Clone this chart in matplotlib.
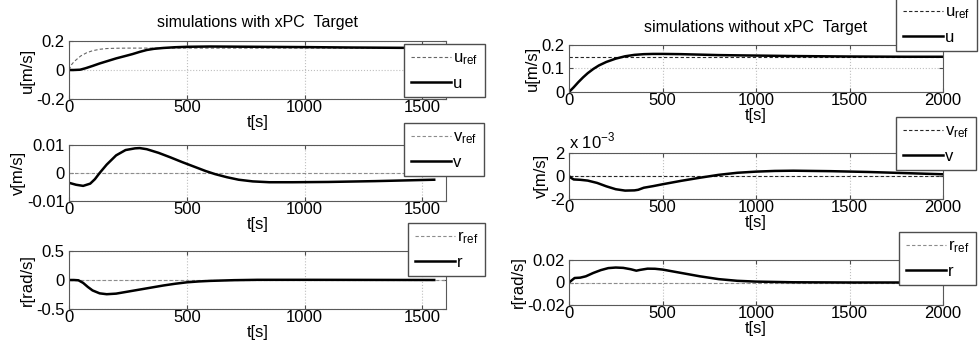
import matplotlib.pyplot as plt
import numpy as np
from matplotlib.ticker import FuncFormatter

plt.rcParams['font.family'] = ['Liberation Sans', 'DejaVu Sans']
plt.rcParams['mathtext.fontset'] = 'custom'
plt.rcParams['mathtext.rm'] = 'Liberation Sans'
plt.rcParams['font.size'] = 12

# ---- with xPC Target (left column)
t_uref_l = [0, 10, 20, 33, 50, 75, 100, 131, 160, 200, 250, 300, 1600]
uref_l = [0, 0.035, 0.055, 0.074, 0.097, 0.119, 0.133, 0.143, 0.148, 0.15, 0.151, 0.151, 0.151]
t_u_l = [0, 20, 47, 70, 100, 130, 160, 200, 240, 270, 300, 330, 360, 400, 450, 500, 600,
         700, 800, 1000, 1200, 1400, 1550]
u_l = [0, 0.0, 0.002, 0.012, 0.028, 0.045, 0.06, 0.08, 0.097, 0.11, 0.125, 0.138, 0.146,
       0.152, 0.157, 0.16, 0.162, 0.161, 0.16, 0.158, 0.155, 0.153, 0.152]

t_v_l = [0, 30, 60, 90, 110, 130, 160, 200, 240, 280, 300, 330, 380, 430, 480, 530, 580,
         620, 670, 720, 780, 850, 950, 1100, 1300, 1450, 1550]
v_l = [-0.0035, -0.0042, -0.0046, -0.0038, -0.0022, 0.0, 0.003, 0.0063, 0.0082, 0.0088,
       0.0089, 0.0085, 0.0072, 0.0056, 0.0039, 0.0023, 0.0007, -0.0004, -0.0015, -0.0024,
       -0.003, -0.0033, -0.0033, -0.0032, -0.0029, -0.0026, -0.0024]
t_vref_l = [0, 1600]
vref_l = [0, 0]

t_r_l = [0, 20, 40, 60, 80, 100, 130, 160, 200, 250, 300, 350, 400, 450, 500, 550, 600,
         700, 800, 1000, 1200, 1550]
r_l = [0, 0, -0.005, -0.05, -0.12, -0.18, -0.23, -0.245, -0.235, -0.2, -0.165, -0.13,
       -0.095, -0.065, -0.04, -0.025, -0.015, -0.003, 0.003, 0.003, 0.002, 0.0]
t_rref_l = [0, 1600]
rref_l = [0, 0]

# ---- without xPC Target (right column)
t_u_r = [0, 25, 50, 75, 100, 130, 160, 200, 250, 300, 350, 400, 450, 500, 600, 700, 800,
         1000, 1200, 1500, 1800, 2000]
u_r = [0, 0.02, 0.042, 0.062, 0.08, 0.098, 0.113, 0.128, 0.142, 0.152, 0.158, 0.161,
       0.162, 0.162, 0.161, 0.159, 0.157, 0.155, 0.153, 0.151, 0.15, 0.15]
t_uref_r = [0, 2000]
uref_r = [0.15, 0.15]

t_v_r = [0, 10, 25, 60, 100, 150, 200, 250, 300, 350, 370, 400, 450, 500, 600, 700, 800,
         900, 1000, 1100, 1200, 1400, 1600, 1800, 2000]
v_r = [0, -0.00015, -0.0003, -0.00033, -0.0004, -0.0006, -0.0009, -0.00115, -0.00127,
       -0.00125, -0.0012, -0.00102, -0.00088, -0.00072, -0.00042, -0.00015, 0.0001,
       0.00028, 0.00038, 0.00044, 0.00046, 0.00042, 0.00035, 0.00025, 0.00015]
t_vref_r = [0, 2000]
vref_r = [0, 0]

t_r_r = [0, 15, 30, 60, 90, 130, 170, 210, 250, 290, 330, 360, 380, 420, 460, 500, 600,
         700, 800, 900, 1000, 1200, 1500, 2000]
r_r = [0, 0.002, 0.004, 0.0043, 0.0055, 0.0085, 0.011, 0.0128, 0.0133, 0.013, 0.0118,
       0.0105, 0.0112, 0.0123, 0.0122, 0.0115, 0.0085, 0.0055, 0.003, 0.0015, 0.0008,
       0.0002, 0.0, 0.0]
t_rref_r = [0, 2000]
rref_r = [0, 0]

W, H = 980, 353
fig = plt.figure(figsize=(W / 100, H / 100), dpi=100)


def px_axes(x0, x1, ytop, ybot):
    return fig.add_axes([x0 / W, 1 - ybot / H, (x1 - x0) / W, (ybot - ytop) / H])


def style(ax, xlim, xticks, ylim, yticks, ylabel):
    ax.set_xlim(xlim)
    ax.set_ylim(ylim)
    ax.set_xticks(xticks)
    ax.set_yticks(yticks)
    ax.grid(True, linestyle=':', color='0.75', linewidth=0.8)
    ax.tick_params(direction='in', top=True, right=True, length=3, color='0.3', pad=1)
    ax.tick_params(axis='y', pad=3)
    for s in ax.spines.values():
        s.set_color('0.35')
        s.set_linewidth(0.8)
    ax.set_xlabel('t[s]', labelpad=0)
    ax.set_ylabel(ylabel, labelpad=1)


def zero_fmt(v, p):
    return '0' if abs(v) < 1e-12 else f'{v:g}'


def add_legend(h, x, y):
    fig.legend(h, [l.get_label() for l in h], loc='upper left',
               bbox_to_anchor=(x / W, 1 - y / H), bbox_transform=fig.transFigure,
               borderaxespad=0, fancybox=False, framealpha=1, edgecolor='0.3',
               handlelength=2.4, handletextpad=0.15, labelspacing=0.5,
               borderpad=0.4, fontsize=12)


ref_kw = dict(linestyle=(0, (3, 2)), linewidth=0.8)
main_kw = dict(color='black', linewidth=1.8)

# left top
ax = px_axes(69, 446, 41, 99)
h1, = ax.plot(t_uref_l, uref_l, color='0.4', label='$\\mathrm{u_{ref}}$', **ref_kw)
h2, = ax.plot(t_u_l, u_l, label='u', **main_kw)
style(ax, (0, 1600), [0, 500, 1000, 1500], (-0.2, 0.2), [-0.2, 0, 0.2], 'u[m/s]')
ax.yaxis.set_major_formatter(FuncFormatter(zero_fmt))
ax.set_title('simulations with xPC  Target', fontsize=11.5, pad=10)
add_legend([h1, h2], 404, 44)

# left mid
ax = px_axes(69, 446, 145, 201)
h1, = ax.plot(t_vref_l, vref_l, color='0.55', label='$\\mathrm{v_{ref}}$', **ref_kw)
h2, = ax.plot(t_v_l, v_l, label='v', **main_kw)
style(ax, (0, 1600), [0, 500, 1000, 1500], (-0.01, 0.01), [-0.01, 0, 0.01], 'v[m/s]')
ax.yaxis.set_major_formatter(FuncFormatter(zero_fmt))
add_legend([h1, h2], 404, 123)

# left bottom
ax = px_axes(69, 446, 251, 309)
h1, = ax.plot(t_rref_l, rref_l, color='0.55', label='$\\mathrm{r_{ref}}$', **ref_kw)
h2, = ax.plot(t_r_l, r_l, label='r', **main_kw)
style(ax, (0, 1600), [0, 500, 1000, 1500], (-0.5, 0.5), [-0.5, 0, 0.5], 'r[rad/s]')
ax.yaxis.set_major_formatter(FuncFormatter(zero_fmt))
add_legend([h1, h2], 408, 223)

# right top
ax = px_axes(569, 943, 45, 92)
h1, = ax.plot(t_uref_r, uref_r, color='0.15', label='$\\mathrm{u_{ref}}$', **ref_kw)
h2, = ax.plot(t_u_r, u_r, label='u', **main_kw)
style(ax, (0, 2000), [0, 500, 1000, 1500, 2000], (0, 0.2), [0, 0.1, 0.2], 'u[m/s]')
ax.yaxis.set_major_formatter(FuncFormatter(zero_fmt))
ax.set_title('simulations without xPC  Target', fontsize=11.5, pad=9)
add_legend([h1, h2], 896, -2)

# right mid
ax = px_axes(569, 943, 153, 199)
h1, = ax.plot(t_vref_r, vref_r, color='0.15', label='$\\mathrm{v_{ref}}$', **ref_kw)
h2, = ax.plot(t_v_r, v_r, label='v', **main_kw)
style(ax, (0, 2000), [0, 500, 1000, 1500, 2000], (-0.002, 0.002), [-0.002, 0, 0.002], 'v[m/s]')
ax.yaxis.set_major_formatter(FuncFormatter(lambda v, p: f'{v * 1e3:.0f}'))
ax.text(0, 1.03, 'x 10$^{-3}$', transform=ax.transAxes, ha='left', va='bottom', fontsize=12)
add_legend([h1, h2], 896, 117)

# right bottom
ax = px_axes(569, 943, 260, 305)
h1, = ax.plot(t_rref_r, rref_r, color='0.55', label='$\\mathrm{r_{ref}}$', **ref_kw)
h2, = ax.plot(t_r_r, r_r, label='r', **main_kw)
style(ax, (0, 2000), [0, 500, 1000, 1500, 2000], (-0.02, 0.02), [-0.02, 0, 0.02], 'r[rad/s]')
ax.yaxis.set_major_formatter(FuncFormatter(zero_fmt))
add_legend([h1, h2], 899, 232)

fig.savefig('out.png', dpi=100)
